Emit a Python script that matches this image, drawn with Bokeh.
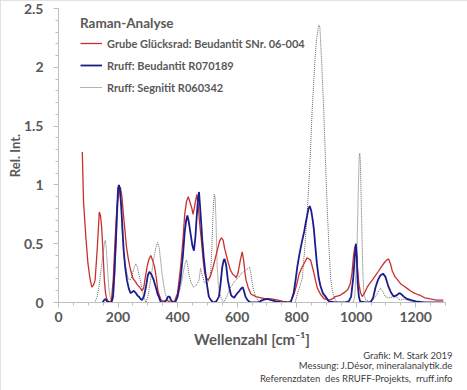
from bokeh.plotting import figure
from bokeh.models import (Range1d, SingleIntervalTicker, CustomJSTickFormatter, Legend,
                          LegendItem, Title)
from bokeh.embed import file_html
from bokeh.resources import INLINE

# ---- data ----
red_x = [80, 84, 92, 99, 106, 112, 118, 123, 130, 137, 141, 145, 150, 154, 158, 162, 170, 178, 184, 190,
         196, 202, 208, 213, 218, 223, 228, 234, 240, 246, 251, 258, 265, 273, 280, 286, 292, 298, 304, 310,
         316, 323, 329, 334, 340, 345, 355, 365, 375, 390, 400, 410, 418, 424, 430, 436, 442, 448, 452, 456,
         460, 465, 470, 475, 480, 486, 491, 497, 502, 510, 519, 527, 535, 541, 547, 553, 558, 563, 570, 577,
         585, 591, 597, 603, 610, 617, 622, 626, 630, 638, 647, 655, 663, 680, 697, 715, 737, 755, 774, 782,
         791, 800, 808, 818, 827, 835, 841, 847, 853, 858, 863, 870, 880, 893, 908, 920, 930, 945, 963, 972,
         980, 986, 991, 996, 1000, 1004, 1009, 1014, 1020, 1028, 1037, 1045, 1054, 1065, 1076, 1086, 1095,
         1102, 1109, 1115, 1121, 1130, 1140, 1149, 1160, 1171, 1182, 1195, 1205, 1216, 1230, 1249, 1270, 1293]
red_y = [1.28, 0.86, 0.55, 0.33, 0.20, 0.13, 0.15, 0.19, 0.45, 0.77, 0.74, 0.64, 0.40, 0.19, 0.08, 0.03, 0.0,
         0.02, 0.20, 0.53, 0.80, 0.95, 0.98, 0.90, 0.75, 0.62, 0.48, 0.38, 0.30, 0.24, 0.20, 0.18, 0.15, 0.13,
         0.10, 0.12, 0.22, 0.31, 0.37, 0.40, 0.36, 0.30, 0.20, 0.10, 0.05, 0.02, 0.01, 0.02, 0.0, 0.01, 0.08,
         0.30, 0.53, 0.75, 0.86, 0.90, 0.85, 0.80, 0.75, 0.80, 0.86, 0.92, 0.80, 0.65, 0.53, 0.36, 0.25, 0.21,
         0.19, 0.22, 0.30, 0.38, 0.46, 0.52, 0.55, 0.53, 0.46, 0.41, 0.34, 0.28, 0.24, 0.23, 0.21, 0.25, 0.35,
         0.43, 0.36, 0.26, 0.19, 0.12, 0.07, 0.06, 0.05, 0.04, 0.03, 0.03, 0.02, 0.01, 0.0, 0.02, 0.07, 0.15,
         0.24, 0.30, 0.34, 0.38, 0.37, 0.36, 0.30, 0.25, 0.19, 0.12, 0.07, 0.03, 0.02, 0.03, 0.05, 0.06, 0.09,
         0.11, 0.16, 0.25, 0.40, 0.48, 0.45, 0.30, 0.16, 0.09, 0.05, 0.08, 0.13, 0.16, 0.19, 0.23, 0.27, 0.31,
         0.34, 0.36, 0.37, 0.33, 0.27, 0.22, 0.19, 0.16, 0.14, 0.12, 0.10, 0.08, 0.07, 0.06, 0.04, 0.03, 0.02,
         0.02]

blue_x = [148, 153, 158, 163, 170, 178, 183, 188, 193, 197, 200, 203, 206, 211, 215, 219, 224, 230, 236, 242,
          248, 253, 260, 265, 270, 276, 281, 288, 295, 300, 305, 312, 320, 328, 333, 337, 341, 345, 355, 362,
          368, 373, 378, 385, 392, 400, 410, 418, 424, 429, 433, 438, 444, 450, 455, 460, 464, 468, 472, 476,
          480, 483, 488, 494, 500, 505, 512, 520, 530, 539, 544, 550, 555, 558, 563, 569, 575, 580, 584, 590,
          598, 608, 614, 619, 624, 628, 635, 645, 670, 685, 701, 715, 730, 750, 780, 790, 797, 802, 810, 818,
          825, 830, 836, 840, 844, 849, 854, 858, 863, 868, 874, 880, 888, 897, 908, 930, 960, 975, 983, 990,
          995, 999, 1002, 1005, 1009, 1013, 1030, 1048, 1057, 1065, 1073, 1081, 1090, 1098, 1104, 1109, 1116,
          1126, 1135, 1145, 1152, 1160, 1171, 1185, 1200, 1230, 1293]
blue_y = [0.0, 0.02, 0.03, 0.01, 0.0, 0.0, 0.05, 0.25, 0.53, 0.80, 0.97, 1.0, 0.97, 0.81, 0.62, 0.44, 0.30,
          0.19, 0.12, 0.08, 0.09, 0.10, 0.08, 0.06, 0.05, 0.03, 0.02, 0.06, 0.15, 0.23, 0.26, 0.24, 0.19, 0.12,
          0.07, 0.05, 0.02, 0.0, 0.0, 0.02, 0.05, 0.05, 0.02, 0.0, 0.0, 0.05, 0.20, 0.40, 0.60, 0.70, 0.74, 0.68,
          0.58, 0.48, 0.44, 0.56, 0.72, 0.86, 0.94, 0.80, 0.65, 0.53, 0.38, 0.24, 0.13, 0.05, 0.02, 0.0, 0.01,
          0.05, 0.15, 0.30, 0.36, 0.37, 0.32, 0.19, 0.11, 0.06, 0.05, 0.04, 0.07, 0.10, 0.12, 0.13, 0.09, 0.05,
          0.02, 0.0, 0.0, 0.02, 0.03, 0.02, 0.01, 0.0, 0.0, 0.08, 0.20, 0.30, 0.42, 0.52, 0.60, 0.67, 0.75, 0.80,
          0.82, 0.78, 0.70, 0.62, 0.47, 0.33, 0.21, 0.14, 0.08, 0.05, 0.01, 0.0, 0.0, 0.01, 0.05, 0.21, 0.38,
          0.50, 0.40, 0.16, 0.05, 0.01, 0.0, 0.0, 0.04, 0.13, 0.19, 0.23, 0.245, 0.22, 0.17, 0.13, 0.09, 0.05,
          0.06, 0.08, 0.07, 0.05, 0.03, 0.02, 0.01, 0.0, 0.0]

dot_x = [122, 130, 137, 144, 150, 155, 158, 162, 166, 170, 175, 180, 185, 190, 195, 200, 205, 208, 213, 219,
         226, 232, 238, 244, 250, 256, 260, 265, 270, 275, 281, 286, 294, 301, 309, 316, 322, 328, 333, 338,
         343, 348, 354, 359, 366, 378, 392, 400, 408, 415, 420, 426, 430, 434, 438, 444, 453, 460, 466, 472,
         477, 482, 490, 498, 504, 508, 511, 515, 519, 523, 526, 529, 533, 537, 541, 545, 550, 555, 565, 578,
         587, 595, 604, 612, 620, 628, 636, 642, 647, 651, 656, 662, 670, 680, 795, 802, 810, 819, 827, 836,
         844, 852, 860, 866, 872, 875, 878, 884, 891, 897, 903, 909, 914, 920, 925, 935, 990, 995, 999, 1003,
         1007, 1010, 1012, 1014, 1017, 1020, 1023, 1026, 1032, 1045, 1055, 1065, 1070, 1076, 1082, 1088, 1094,
         1098, 1106, 1115, 1123, 1130, 1137, 1143, 1149, 1160, 1170, 1185, 1200]
dot_y = [0.0, 0.05, 0.15, 0.30, 0.42, 0.52, 0.53, 0.40, 0.24, 0.10, 0.03, 0.0, 0.05, 0.30, 0.60, 0.85, 0.95,
         0.90, 0.65, 0.41, 0.30, 0.22, 0.19, 0.20, 0.26, 0.31, 0.33, 0.30, 0.24, 0.19, 0.11, 0.05, 0.0, 0.06,
         0.19, 0.30, 0.40, 0.48, 0.51, 0.47, 0.36, 0.24, 0.14, 0.07, 0.03, 0.0, 0.02, 0.05, 0.11, 0.19, 0.27,
         0.34, 0.36, 0.32, 0.24, 0.18, 0.13, 0.14, 0.16, 0.19, 0.29, 0.24, 0.17, 0.16, 0.18, 0.22, 0.26, 0.45,
         0.75, 0.92, 0.90, 0.70, 0.30, 0.15, 0.08, 0.05, 0.02, 0.0, 0.05, 0.13, 0.16, 0.19, 0.21, 0.24, 0.26,
         0.27, 0.29, 0.30, 0.24, 0.16, 0.10, 0.05, 0.02, 0.0, 0.0, 0.07, 0.13, 0.21, 0.45, 0.78, 1.15, 1.63,
         2.00, 2.22, 2.33, 2.36, 2.34, 2.05, 1.63, 1.20, 0.78, 0.45, 0.21, 0.10, 0.05, 0.0, 0.0, 0.05, 0.25,
         0.50, 0.95, 1.24, 1.27, 1.20, 0.85, 0.50, 0.22, 0.07, 0.02, 0.01, 0.02, 0.05, 0.07, 0.10, 0.12, 0.10,
         0.07, 0.05, 0.04, 0.04, 0.05, 0.06, 0.04, 0.03, 0.02, 0.03, 0.02, 0.01, 0.0]

series_names = ["Grube Glücksrad: Beudantit SNr. 06-004", "Rruff: Beudantit R070189", "Rruff: Segnitit R060342"]
legend_title = "Raman-Analyse"
x_title = "Wellenzahl [cm⁻¹]"
y_title = "Rel. Int."
footer = ["Grafik: M. Stark 2019", "Messung: J.Désor, mineralanalytik.de",
          "Referenzdaten\u00a0 des RRUFF-Projekts,\u00a0 rruff.info"]

GRAY = "#595959"
FONT = "Lato"

p = figure(width=467, height=390, output_backend="svg", toolbar_location=None,
           x_range=Range1d(0, 1300), y_range=Range1d(0, 2.5),
           min_border_left=58, min_border_right=22, min_border_top=8, min_border_bottom=88)
p.outline_line_color = None
p.grid.visible = False
p.styles = {"outline": "1px solid #D9D9D9", "outline-offset": "-1px"}

r_dot = p.line(dot_x, dot_y, line_color="#555555", line_width=0.9, line_dash="1 1")
r_red = p.line(red_x, red_y, line_color="#C8302C", line_width=1.3)
r_blue = p.line(blue_x, blue_y, line_color="#1C1C8C", line_width=1.8)

for ax in (p.xaxis[0], p.yaxis[0]):
    ax.axis_line_color = "#BFBFBF"
    ax.major_tick_line_color = "#BFBFBF"
    ax.minor_tick_line_color = "#BFBFBF"
    ax.major_tick_in = 0
    ax.major_tick_out = 5
    ax.minor_tick_in = 0
    ax.minor_tick_out = 3
    ax.major_label_text_font = FONT
    ax.major_label_text_font_style = "bold"
    ax.major_label_text_font_size = "14px"
    ax.major_label_text_color = GRAY
    ax.axis_label_text_font = FONT
    ax.axis_label_text_font_style = "bold"
    ax.axis_label_text_color = GRAY

p.xaxis.ticker = SingleIntervalTicker(interval=200, num_minor_ticks=4)
p.yaxis.ticker = SingleIntervalTicker(interval=0.5, num_minor_ticks=5)
p.yaxis.formatter = CustomJSTickFormatter(code="return String(Math.round(tick*10)/10);")
p.xaxis.axis_label = x_title
p.yaxis.axis_label = y_title
p.xaxis.axis_label_text_font_size = "15px"
p.yaxis.axis_label_text_font_size = "13px"
p.xaxis.major_label_standoff = 4
p.yaxis.major_label_standoff = 10
p.xaxis.axis_label_standoff = 5
p.yaxis.axis_label_standoff = -2

legend = Legend(items=[LegendItem(label=series_names[0], renderers=[r_red]),
                       LegendItem(label=series_names[1], renderers=[r_blue]),
                       LegendItem(label=series_names[2], renderers=[r_dot])],
                title=legend_title)
legend.title_text_font = FONT
legend.title_text_font_style = "bold"
legend.title_text_font_size = "13.5px"
legend.title_text_color = GRAY
legend.title_standoff = 5
legend.label_text_font = FONT
legend.label_text_font_style = "bold"
legend.label_text_font_size = "11px"
legend.label_text_color = GRAY
legend.glyph_width = 22
legend.glyph_height = 14
legend.label_height = 14
legend.label_standoff = 5
legend.spacing = 8
legend.padding = 0
legend.margin = 0
legend.border_line_color = None
legend.background_fill_alpha = 0
legend.location = (22, 208)
p.add_layout(legend)

for i, t in enumerate(footer):
    p.add_layout(Title(text=t, align="right", offset=-7, standoff=(-6 if i == 0 else 0), text_font=FONT,
                       text_font_style="normal", text_font_size="9.5px", text_color="#404040"), "below")

open("out.html", "w").write(file_html(p, INLINE))
